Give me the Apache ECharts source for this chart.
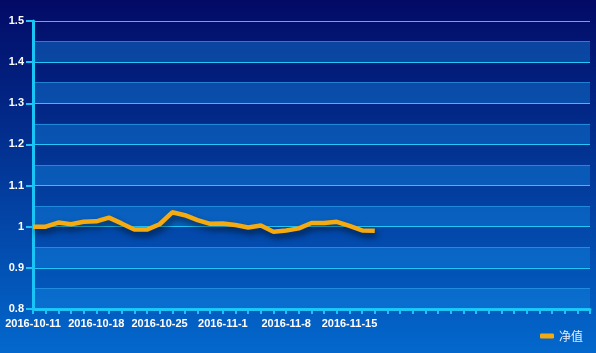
<!DOCTYPE html>
<html>
<head>
<meta charset="utf-8">
<script src="https://cdn.jsdelivr.net/npm/echarts@6/dist/echarts.min.js"></script>
<style>
  html, body { margin: 0; padding: 0; }
  #main { width: 596px; height: 353px; }
</style>
</head>
<body>
<div id="main"></div>
<script>
// 交易日（后面留空的位置是还没到的日期）
var dates = [
  "2016-10-11", "2016-10-12", "2016-10-13", "2016-10-14", "2016-10-17",
  "2016-10-18", "2016-10-19", "2016-10-20", "2016-10-21", "2016-10-24",
  "2016-10-25", "2016-10-26", "2016-10-27", "2016-10-28", "2016-10-31",
  "2016-11-1", "2016-11-2", "2016-11-3", "2016-11-4", "2016-11-7",
  "2016-11-8", "2016-11-9", "2016-11-10", "2016-11-11", "2016-11-14",
  "2016-11-15", "2016-11-16", "2016-11-17"
];
var emptySlots = ["", "", "", "", "", "", "", "", "", "", "", "", "", "", "", "", ""];
var categories = dates.concat(emptySlots);

// 净值
var netValues = [
  1.000, 1.000, 1.010, 1.006, 1.012, 1.013, 1.022, 1.008, 0.993, 0.993,
  1.006, 1.035, 1.028, 1.016, 1.007, 1.008, 1.004, 0.998, 1.003, 0.988,
  0.991, 0.996, 1.009, 1.009, 1.012, 1.002, 0.991, 0.990
];

var axisColor = "#19c4f6";

var chart = echarts.init(document.getElementById("main"));
chart.setOption({
  animation: false,
  backgroundColor: new echarts.graphic.LinearGradient(0, 0, 0, 1, [
    { offset: 0, color: "#020a66" },
    { offset: 1, color: "#0368cd" }
  ]),
  textStyle: { fontFamily: "Liberation Sans, Arial, sans-serif" },
  grid: { left: 33, right: 6, top: 21, bottom: 44 },
  legend: {
    right: 8,
    bottom: 6,
    icon: "roundRect",
    itemWidth: 14,
    itemHeight: 5,
    textStyle: { color: "#e8eef8", fontSize: 12, fontFamily: "Noto Sans CJK SC" },
    data: ["净值"]
  },
  xAxis: {
    type: "category",
    boundaryGap: false,
    data: categories,
    axisLine: { lineStyle: { color: axisColor, width: 3 } },
    axisTick: { interval: 0, length: 5, lineStyle: { color: axisColor, width: 2 } },
    axisLabel: {
      interval: 4,
      color: "#ffffff",
      fontWeight: "bold",
      fontSize: 11,
      margin: 9
    },
    splitLine: { show: false }
  },
  yAxis: [
    {
      // 主轴：刻度、标签、亮色分隔线
      type: "value",
      min: 0.8,
      max: 1.5,
      interval: 0.1,
      z: 1,
      axisLine: { show: true, lineStyle: { color: axisColor, width: 3 } },
      axisTick: { show: true, length: 7, lineStyle: { color: axisColor, width: 2 } },
      axisLabel: {
        color: "#ffffff",
        fontWeight: "bold",
        fontSize: 11,
        margin: 9
      },
      splitLine: { show: true, lineStyle: { color: "#22c8fa", width: 1.2 } },
      splitArea: { show: false }
    },
    {
      // 辅助轴：0.05 间隔的暗线和交替底色
      type: "value",
      position: "left",
      min: 0.8,
      max: 1.5,
      interval: 0.05,
      z: 0,
      axisLine: { show: false },
      axisTick: { show: false },
      axisLabel: { show: false },
      splitLine: { show: true, lineStyle: { color: "rgba(40,150,230,0.8)", width: 1.2 } },
      splitArea: {
        show: true,
        areaStyle: { color: ["rgba(20,140,230,0.4)", "rgba(0,0,0,0)"] }
      }
    }
  ],
  series: [
    {
      name: "净值",
      type: "line",
      data: netValues,
      symbol: "none",
      lineStyle: {
        color: "#f5aa10",
        width: 4.5,
        shadowColor: "rgba(0,0,0,0.6)",
        shadowBlur: 6,
        shadowOffsetX: 2,
        shadowOffsetY: 4
      },
      itemStyle: {
        color: "#f5aa10",
        shadowColor: "rgba(0,0,0,0.6)",
        shadowBlur: 6,
        shadowOffsetX: 2,
        shadowOffsetY: 4
      }
    }
  ]
});
</script>
</body>
</html>
